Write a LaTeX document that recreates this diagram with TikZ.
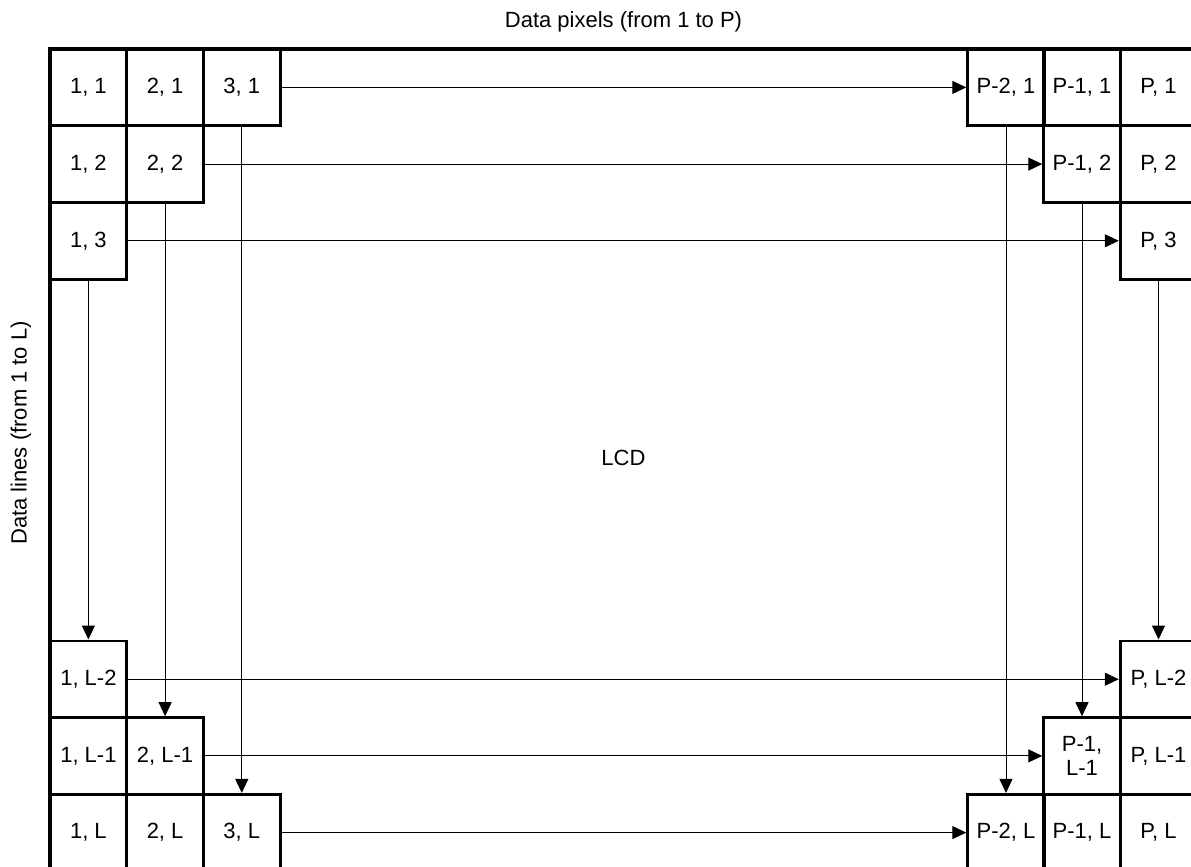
\documentclass[tikz,border=0pt]{standalone}
\usepackage{fontspec}
\setmainfont{Liberation Sans}
\usetikzlibrary{arrows.meta}
\begin{document}
\begin{tikzpicture}[x=.5pt,y=-.5pt,font=\fontsize{11}{12}\selectfont,
  cellbox/.style={draw,line width=1.4pt,minimum width=38.3pt,minimum height=38.3pt,inner sep=0pt,align=center},
  conn/.style={line width=.5pt,-{Triangle[length=7pt,width=6.5pt]}}]
\path[use as bounding box,clip] (0,0) rectangle (1191,867);
\node[draw,line width=2pt,minimum width=573.5pt,minimum height=411pt,inner sep=0pt] (lcd) at (623.5,460) {};
\node (lcdname) at (623.5,458) {LCD};
\node (toplabel) at (623.5,22) {Data pixels (from 1 to P)};
\node[rotate=90] (sidelabel) at (21,433) {Data lines (from 1 to L)};
\def\cell#1#2#3#4{\node[cellbox] (#1) at (#2,#3) {#4};}
% corner cells
\cell{a11}{88.4}{87.4}{1, 1}\cell{a21}{165.1}{87.4}{2, 1}\cell{a31}{241.8}{87.4}{3, 1}
\cell{a12}{88.4}{164.1}{1, 2}\cell{a22}{165.1}{164.1}{2, 2}
\cell{a13}{88.4}{240.8}{1, 3}
\cell{b11}{1006}{87.4}{P-2, 1}\cell{b21}{1082}{87.4}{P-1, 1}\cell{b31}{1158.5}{87.4}{P, 1}
\cell{b22}{1082}{164.1}{P-1, 2}\cell{b32}{1158.5}{164.1}{P, 2}
\cell{b33}{1158.5}{240.8}{P, 3}
\cell{c13}{88.4}{679.2}{1, L-2}
\cell{c12}{88.4}{755.9}{1, L-1}\cell{c22}{165.1}{755.9}{2, L-1}
\cell{c11}{88.4}{832.6}{1, L}\cell{c21}{165.1}{832.6}{2, L}\cell{c31}{241.8}{832.6}{3, L}
\cell{d33}{1158.5}{679.2}{P, L-2}
\cell{d22}{1082}{755.9}{P-1,\\L-1}\cell{d32}{1158.5}{755.9}{P, L-1}
\cell{d11}{1006}{832.6}{P-2, L}\cell{d21}{1082}{832.6}{P-1, L}\cell{d31}{1158.5}{832.6}{P, L}
% lines across
\draw[conn] (a31.east) -- (b11.west);
\draw[conn] (a22.east) -- (b22.west);
\draw[conn] (a13.east) -- (b33.west);
\draw[conn] (c13.east) -- (d33.west);
\draw[conn] (c22.east) -- (d22.west);
\draw[conn] (c31.east) -- (d11.west);
% lines down
\draw[conn] (a13.south) -- (c13.north);
\draw[conn] (a22.south) -- (c22.north);
\draw[conn] (a31.south) -- (c31.north);
\draw[conn] (b11.south) -- (d11.north);
\draw[conn] (b22.south) -- (d22.north);
\draw[conn] (b33.south) -- (d33.north);
\end{tikzpicture}
\end{document}
